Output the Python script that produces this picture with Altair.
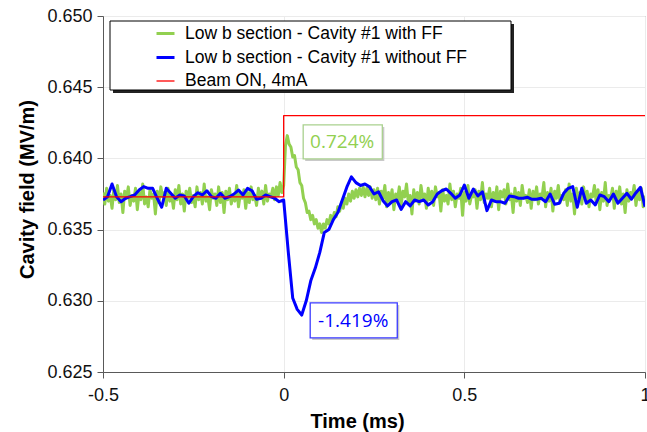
import altair as alt
import pandas as pd

# ---------------- data ----------------
series_names = ["Low b section - Cavity #1 with FF",
                "Low b section - Cavity #1 without FF",
                "Beam ON, 4mA"]
series_colors = ["#92D050", "#0000FF", "#FF0000"]
series_widths = [3, 3, 1.3]

# with FF (green), sampled every 0.005 ms from -0.5 ms
green_step = 0.005
green_pre = [
    0.6376, 0.6368, 0.6379, 0.6370, 0.6374, 0.6365, 0.6378, 0.6371, 0.6381, 0.6369,
    0.6375, 0.6362, 0.6377, 0.6372, 0.6380, 0.6367, 0.6374, 0.6370, 0.6379, 0.6364,
    0.6376, 0.6371, 0.6382, 0.6368, 0.6373, 0.6366, 0.6378, 0.6372, 0.6375, 0.6361,
    0.6377, 0.6369, 0.6380, 0.6373, 0.6376, 0.6367, 0.6379, 0.6370, 0.6374, 0.6365,
    0.6378, 0.6371, 0.6381, 0.6368, 0.6375, 0.6363, 0.6377, 0.6372, 0.6379, 0.6369,
    0.6374, 0.6366, 0.6380, 0.6371, 0.6376, 0.6368, 0.6382, 0.6370, 0.6373, 0.6364,
    0.6378, 0.6372, 0.6375, 0.6367, 0.6380, 0.6369, 0.6376, 0.6362, 0.6377, 0.6371,
    0.6379, 0.6368, 0.6374, 0.6370, 0.6381, 0.6366, 0.6375, 0.6372, 0.6378, 0.6365,
    0.6376, 0.6369, 0.6380, 0.6371, 0.6374, 0.6367, 0.6379, 0.6372, 0.6377, 0.6368,
    0.6381, 0.6370, 0.6375, 0.6373, 0.6379, 0.6371, 0.6380, 0.6374, 0.6383, 0.6376,
]
green_transient = [
    0.6381, 0.6409, 0.6416, 0.6410, 0.6408, 0.6401, 0.6402, 0.6394, 0.6392, 0.6383,
    0.6381, 0.6372, 0.6369, 0.6362, 0.6363, 0.6357, 0.6360, 0.6354, 0.6357, 0.6351,
    0.6354, 0.6348, 0.6354, 0.6351, 0.6357, 0.6354, 0.6360, 0.6356, 0.6362, 0.6359,
    0.6366, 0.6363, 0.6369, 0.6365, 0.6372, 0.6368, 0.6375, 0.6370, 0.6377, 0.6372,
    0.6378, 0.6373, 0.6379, 0.6374, 0.6380, 0.6373, 0.6379, 0.6374, 0.6380, 0.6372,
    0.6378,
]
green_post = [
    0.6371, 0.6379, 0.6368, 0.6377, 0.6372, 0.6381, 0.6366, 0.6376, 0.6370, 0.6378,
    0.6364, 0.6375, 0.6371, 0.6380, 0.6367, 0.6377, 0.6373, 0.6382, 0.6369, 0.6374,
    0.6361, 0.6378, 0.6370, 0.6376, 0.6368, 0.6381, 0.6372, 0.6375, 0.6365, 0.6379,
    0.6371, 0.6377, 0.6367, 0.6380, 0.6373, 0.6376, 0.6363, 0.6378, 0.6370, 0.6374,
    0.6368, 0.6382, 0.6371, 0.6377, 0.6366, 0.6375, 0.6372, 0.6379, 0.6360, 0.6376,
    0.6370, 0.6381, 0.6368, 0.6374, 0.6373, 0.6378, 0.6365, 0.6377, 0.6371, 0.6383,
    0.6369, 0.6375, 0.6372, 0.6379, 0.6366, 0.6376, 0.6370, 0.6380, 0.6364, 0.6377,
    0.6373, 0.6378, 0.6368, 0.6382, 0.6371, 0.6375, 0.6362, 0.6379, 0.6370, 0.6376,
    0.6367, 0.6381, 0.6372, 0.6374, 0.6369, 0.6378, 0.6365, 0.6377, 0.6371, 0.6380,
    0.6368, 0.6375, 0.6373, 0.6383, 0.6366, 0.6376, 0.6370, 0.6379, 0.6363, 0.6377,
    0.6372, 0.6381, 0.6369, 0.6374, 0.6371, 0.6378, 0.6367, 0.6382, 0.6370, 0.6375,
    0.6361, 0.6379, 0.6372, 0.6376, 0.6368, 0.6380, 0.6371, 0.6377, 0.6366, 0.6375,
    0.6373, 0.6381, 0.6369, 0.6378, 0.6364, 0.6376, 0.6370, 0.6383, 0.6367, 0.6374,
    0.6372, 0.6379, 0.6365, 0.6377, 0.6371, 0.6380, 0.6368, 0.6375, 0.6362, 0.6378,
    0.6370, 0.6376, 0.6373, 0.6381, 0.6367, 0.6377, 0.6371, 0.6379, 0.6366, 0.6374,
]
green_v = green_pre + green_transient + green_post

# without FF (blue), sampled every 0.0125 ms from -0.5 ms
blue_step = 0.0125
blue_pre = [
    0.63708, 0.63731, 0.63820, 0.63731, 0.63696, 0.63720, 0.63731, 0.63743, 0.63778, 0.63802,
    0.63790, 0.63790, 0.63720, 0.63657, 0.63790, 0.63755, 0.63720, 0.63743, 0.63736, 0.63685,
    0.63731, 0.63759, 0.63743, 0.63773, 0.63731, 0.63720, 0.63755, 0.63720, 0.63731, 0.63750,
    0.63778, 0.63743, 0.63790, 0.63773, 0.63713, 0.63720, 0.63743, 0.63731, 0.63720, 0.63696,
    0.63708,
]
blue_transient = [
    0.6335, 0.6302, 0.6294, 0.6290, 0.6300, 0.6314, 0.6323, 0.6334, 0.6348, 0.6350,
    0.6357, 0.6362, 0.6371, 0.6380, 0.6387, 0.6383, 0.6381, 0.6382, 0.6380,
]
blue_post = [
    0.63750, 0.63766, 0.63703, 0.63666, 0.63696, 0.63708, 0.63642, 0.63696, 0.63666, 0.63708,
    0.63696, 0.63708, 0.63673, 0.63696, 0.63750, 0.63773, 0.63785, 0.63755, 0.63720, 0.63743,
    0.63813, 0.63720, 0.63785, 0.63736, 0.63766, 0.63633, 0.63708, 0.63696, 0.63696, 0.63685,
    0.63736, 0.63731, 0.63720, 0.63720, 0.63727, 0.63713, 0.63713, 0.63720, 0.63696, 0.63750,
    0.63678, 0.63685, 0.63755, 0.63790, 0.63802, 0.63657, 0.63790, 0.63685, 0.63708, 0.63673,
    0.63743, 0.63731, 0.63696, 0.63750, 0.63685, 0.63720, 0.63755, 0.63713, 0.63759, 0.63797,
    0.63661,
]
blue_v = blue_pre + blue_transient + blue_post

# beam step (red)
red_t = [-0.5, 0.0, 0.0, 1.0]
red_v = [0.6373, 0.6373, 0.6430, 0.6430]

# annotations
ann_text = ["0.724%", "-1.419%"]
ann_color = ["#92D050", "#0000FF"]
ann_border = ["#A9D18E", "#3A3AFF"]
ann_t = [0.162, 0.1925]
ann_v = [0.64115, 0.62858]
box_t0 = [0.054, 0.0734]
box_t1 = [0.273, 0.3144]
box_v0 = [0.63996, 0.62739]
box_v1 = [0.64235, 0.62985]

y_ticks = [0.625, 0.630, 0.635, 0.640, 0.645, 0.650]
x_ticks = [-0.5, 0, 0.5, 1]

# ---------------- tables ----------------
green_t = [round(-0.5 + green_step * i, 4) for i in range(len(green_v))]
blue_t = [round(-0.5 + blue_step * i, 4) for i in range(len(blue_v))]

rows = []
for name, ts, vs in [(series_names[0], green_t, green_v),
                     (series_names[1], blue_t, blue_v),
                     (series_names[2], red_t, red_v)]:
    for i, (t, v) in enumerate(zip(ts, vs)):
        rows.append({"series": name, "t": t, "v": v, "idx": i})
df = pd.DataFrame(rows)

ann = pd.DataFrame({"text": ann_text, "color": ann_color, "border": ann_border,
                    "t": ann_t, "v": ann_v, "t0": box_t0, "t1": box_t1,
                    "v0": box_v0, "v1": box_v1})

FONT = "Liberation Sans"

xscale = alt.Scale(domain=[-0.5, 1.0], nice=False, zero=False)
yscale = alt.Scale(domain=[0.625, 0.650], nice=False, zero=False)

xaxis = alt.Axis(values=x_ticks, labelExpr="toString(datum.value)", title="Time (ms)",
                 titleX=254, titleY=55, titleBaseline="alphabetic", titleAlign="center",
                 labelPadding=8, tickSize=6, labelFlush=False)
yaxis = alt.Axis(values=y_ticks, format=".3f", title="Cavity field (MV/m)",
                 titleX=-70, titleY=173, titleAngle=270, titleBaseline="alphabetic",
                 titleAlign="center", labelPadding=5, tickSize=6, labelFlush=False)

legend = alt.Legend(title=None, orient="none", legendX=52, legendY=7,
                    symbolType="stroke", symbolSize=324, labelFont=FONT,
                    labelFontSize=17.5, labelColor="black", rowPadding=5,
                    labelOffset=9, padding=0, labelLimit=500)

color = alt.Color("series:N", scale=alt.Scale(domain=series_names, range=series_colors),
                  legend=legend)
swidth = alt.StrokeWidth("series:N",
                         scale=alt.Scale(type="ordinal", domain=series_names, range=series_widths),
                         legend=legend)

base = alt.Chart(df)


def line_layer(name):
    return base.transform_filter(alt.datum.series == name).mark_line(
        strokeJoin="round", clip=True).encode(
        x=alt.X("t:Q", scale=xscale, axis=xaxis),
        y=alt.Y("v:Q", scale=yscale, axis=yaxis),
        color=color,
        strokeWidth=swidth,
        order=alt.Order("idx:Q"),
    )


lines = [line_layer(n) for n in series_names]

abase = alt.Chart(ann)
box_shadow = abase.mark_rect(fill="#c9c9c9", xOffset=2, x2Offset=2, yOffset=2, y2Offset=2).encode(
    x="t0:Q", x2="t1:Q", y="v0:Q", y2="v1:Q")
box = abase.mark_rect(fill="white", strokeWidth=1.3).encode(
    x="t0:Q", x2="t1:Q", y="v0:Q", y2="v1:Q",
    stroke=alt.Stroke("border:N", scale=None))
box_text = abase.mark_text(font="Open Sans", fontSize=19, baseline="middle", align="center").encode(
    x="t:Q", y="v:Q", text="text:N", color=alt.Color("color:N", scale=None))

frame_df = pd.DataFrame({"k": [0]})
leg_shadow = alt.Chart(frame_df).mark_rect(fill="#222222").encode(
    x=alt.value(10), x2=alt.value(411), y=alt.value(8), y2=alt.value(77))
leg_box = alt.Chart(frame_df).mark_rect(fill="white", stroke="black", strokeWidth=1).encode(
    x=alt.value(7), x2=alt.value(408), y=alt.value(5), y2=alt.value(74))

chart = alt.layer(*lines, box_shadow, box, box_text, leg_shadow, leg_box).properties(
    width=542, height=356,
    autosize=alt.AutoSizeParams(type="none"),
    padding={"left": 103, "top": 16, "right": 2, "bottom": 60},
    background="white",
).configure_view(
    stroke="#8c8c8c", strokeWidth=1
).configure_axis(
    labelFont=FONT, labelFontSize=18, labelColor="#111111",
    titleFont=FONT, titleFontSize=20, titleFontWeight="bold", titleColor="black",
    domainColor="#595959", tickColor="#595959", gridColor="#ebebeb", gridWidth=1,
)

chart.save("out.html", embed_options={"renderer": "svg", "actions": False})
